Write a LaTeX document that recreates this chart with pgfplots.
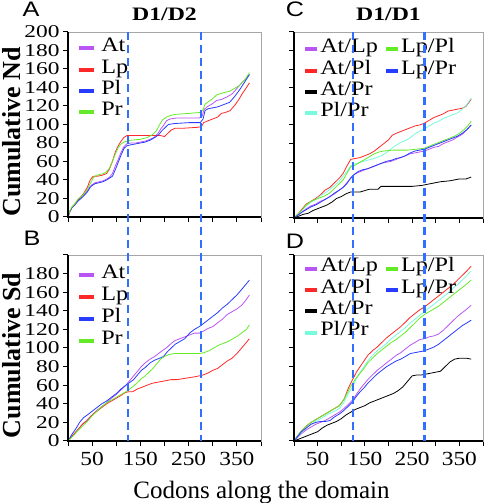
\documentclass[border=0pt]{standalone}
\usepackage{graphicx}
\usepackage{pgfplots}
\pgfplotsset{compat=1.18}
\usepackage{fontspec}
\setmainfont{Liberation Serif}
\newfontfamily\letfont{Liberation Sans}
\newcommand\sty[1]{\scalebox{1.3}[1]{#1}}
\newcommand\stx[1]{\scalebox{1.17}[1]{#1}}
\newcommand\slg[1]{\scalebox{1.18}[1]{#1}}
\definecolor{cAt}{RGB}{185,85,245}
\definecolor{cLp}{RGB}{255,40,40}
\definecolor{cPl}{RGB}{40,60,255}
\definecolor{cPr}{RGB}{100,235,40}
\definecolor{cCy}{RGB}{120,250,220}
\definecolor{cDash}{RGB}{50,110,255}
\pgfplotsset{
  panel/.style={
    scale only axis, xmin=0, xmax=400, ymin=0, ymax=200,
    axis line style={draw=black!35, line width=0.6pt},
    xtick={0,50,...,400}, ytick={0,20,...,200},
    tick align=outside, xtick pos=bottom, ytick pos=left,
    major tick length=5pt, tick style={black, line width=1pt},
    xticklabels={}, yticklabels={},
    after end axis/.append code={\draw[black,line width=1.6pt] (rel axis cs:0,1) -- (rel axis cs:0,0) -- (rel axis cs:1,0);},
    legend cell align=left,
    legend style={draw=none, fill=none, inner sep=0pt,
      font=\fontsize{20.5}{20.5}\selectfont,
      nodes={inner sep=0pt, text height=14pt, text depth=7.3pt}},
    every axis plot/.append style={line width=0.8pt},
  },
  legA/.style={legend image code/.code={\draw[##1, line width=4pt] (0pt,0pt) -- (15pt,0pt);},
    legend style={/tikz/every odd column/.append style={column sep=5pt}}},
  legC/.style={legend image code/.code={\draw[##1, line width=4pt] (0pt,0pt) -- (12pt,0pt);},
    legend columns=2,
    legend style={/tikz/every odd column/.append style={column sep=1pt},
      /tikz/every even column/.append style={column sep=6pt}}},
  ylabs/.style={yticklabels={\sty{0},\sty{20},\sty{40},\sty{60},\sty{80},\sty{100},\sty{120},\sty{140},\sty{160},\sty{180},#1},
    yticklabel style={font=\fontsize{18}{18}\selectfont}},
  xlabs/.style={xticklabels={,\stx{50},,\stx{150},,\stx{250},,\stx{350},},
    xticklabel style={font=\fontsize{20}{20}\selectfont, yshift=-3pt}},
  ttl/.style={title={\scalebox{1.25}[1]{#1}}, title style={font=\bfseries\fontsize{19}{19}\selectfont,
    at={(axis description cs:0.5,1)}, anchor=base, yshift=5pt}},
  ylab/.style={ylabel={#1}, ylabel style={font=\bfseries\fontsize{26}{26}\selectfont,
    at={(axis description cs:-0.293,0.46)}, anchor=center}},
}
\begin{document}
\begin{tikzpicture}
\useasboundingbox (0,0) rectangle (485pt,503pt);
% ---------------- A ----------------
\begin{axis}[panel, legA, ylabs={\sty{200}}, ttl={D1/D2}, ylab={Cumulative Nd},
  at={(68pt,286pt)}, anchor=south west, width=193pt, height=185pt,
  legend style={at={(axis description cs:0.047,0.97)}, anchor=north west}]
\addplot[cAt] coordinates {(0,0)(4,6)(8,10)(14,13)(20,17)(27,21)(33,24)(40,28)(46,33)(50,35)(56,37)(64,38)(72,39)(80,41)(86,43)(92,47)(98,55)(104,62)(110,70)(116,76)(122,79)(130,80)(140,80)(150,81)(160,82)(170,84)(178,86)(186,90)(192,95)(198,99)(204,104)(212,106)(224,107)(250,107)(272,107)(278,109)(282,116)(288,119)(298,122)(308,126)(318,127)(330,130)(340,133)(350,139)(360,145)(368,149)(376,154)};
\addlegendentry{\slg{At}}
\addplot[cLp] coordinates {(0,0)(4,6)(8,10)(14,14)(20,18)(27,22)(33,26)(40,32)(46,40)(52,44)(60,44)(70,45)(80,47)(86,52)(92,60)(98,70)(104,77)(110,82)(116,86)(122,88)(180,88)(192,88)(200,87)(206,90)(214,94)(222,96)(240,96)(270,97)(277,98)(281,102)(290,104)(300,106)(310,108)(318,112)(326,113)(336,115)(346,121)(354,127)(362,134)(370,140)(376,145)};
\addlegendentry{\slg{Lp}}
\addplot[cPl] coordinates {(0,0)(4,6)(8,10)(14,13)(20,17)(27,20)(33,23)(40,27)(46,32)(50,34)(56,36)(64,37)(72,38)(80,40)(86,42)(92,44)(98,51)(104,59)(110,67)(116,74)(122,77)(130,78)(140,79)(150,80)(160,81)(170,83)(180,86)(188,89)(194,93)(200,96)(208,100)(220,101)(250,102)(274,102)(280,106)(284,115)(290,117)(300,118)(310,119)(320,121)(335,124)(345,130)(355,137)(365,145)(376,154)};
\addlegendentry{\slg{Pl}}
\addplot[cPr] coordinates {(0,0)(4,7)(8,11)(14,14)(20,19)(27,22)(33,25)(40,30)(46,36)(52,42)(58,45)(66,46)(74,47)(80,49)(86,53)(92,60)(98,68)(104,75)(110,79)(116,81)(122,82)(130,83)(150,84)(165,86)(175,89)(183,93)(190,100)(196,105)(204,108)(214,110)(224,111)(250,112)(274,113)(280,116)(284,122)(292,125)(300,128)(308,132)(320,134)(335,136)(345,139)(355,142)(366,148)(376,156)};
\addlegendentry{\slg{Pr}}
\coordinate (a1) at (axis cs:125,200);
\coordinate (a2) at (axis cs:276,200);
\end{axis}
% ---------------- B ----------------
\begin{axis}[panel, legA, ylabs={}, xlabs, ylab={Cumulative Sd},
  at={(68pt,62pt)}, anchor=south west, width=193pt, height=186pt,
  legend style={at={(axis description cs:0.047,0.955)}, anchor=north west,
    nodes={text height=14.5pt, text depth=7.5pt}}]
\addplot[cAt] coordinates {(0,0)(10,6)(20,12)(30,18)(40,23)(50,28)(60,33)(70,37)(80,41)(90,46)(100,50)(110,55)(120,60)(128,65)(136,70)(144,75)(152,80)(160,84)(170,88)(180,91)(190,95)(198,98)(206,101)(214,105)(222,108)(232,110)(242,112)(252,114)(262,116)(272,116)(280,118)(290,121)(300,123)(310,127)(320,131)(330,136)(340,139)(350,142)(360,146)(368,151)(376,157)};
\addlegendentry{\slg{At}}
\addplot[cLp] coordinates {(0,0)(10,6)(20,12)(30,18)(40,22)(50,28)(60,32)(70,36)(80,40)(90,43)(100,46)(110,49)(118,52)(126,53)(134,53)(144,56)(154,58)(164,60)(174,62)(184,63)(194,64)(204,65)(214,66)(226,66)(238,67)(250,68)(262,69)(272,70)(280,71)(290,73)(300,76)(310,78)(320,82)(330,86)(340,89)(350,94)(360,100)(368,105)(376,110)};
\addlegendentry{\slg{Lp}}
\addplot[cPl] coordinates {(0,0)(8,7)(16,13)(24,20)(32,25)(40,28)(50,32)(60,36)(70,40)(80,43)(90,47)(100,51)(110,56)(120,60)(128,63)(136,66)(144,71)(152,76)(160,79)(170,84)(180,87)(190,89)(198,91)(206,96)(214,100)(222,104)(232,107)(242,110)(252,116)(262,120)(272,123)(280,126)(290,130)(300,134)(310,138)(320,143)(330,147)(340,152)(350,157)(360,163)(368,168)(376,173)};
\addlegendentry{\slg{Pl}}
\addplot[cPr] coordinates {(0,0)(10,5)(20,11)(30,16)(40,21)(50,27)(60,32)(70,37)(80,41)(90,44)(100,47)(110,50)(120,53)(128,56)(136,59)(144,63)(152,67)(160,70)(168,74)(176,78)(184,83)(192,88)(200,91)(210,93)(220,94)(240,94)(260,94)(272,94)(282,95)(292,97)(302,100)(312,103)(322,105)(332,107)(342,110)(352,113)(362,117)(370,120)(376,125)};
\addlegendentry{\slg{Pr}}
\coordinate (b1) at (axis cs:125,0);
\coordinate (b2) at (axis cs:276,0);
\end{axis}
% ---------------- C ----------------
\begin{axis}[panel, legC, ttl={D1/D1},
  at={(294pt,285pt)}, anchor=south west, width=189pt, height=186pt,
  legend style={at={(axis description cs:0.048,0.965)}, anchor=north west}]
\addplot[cAt, forget plot] coordinates {(0,0)(8,3)(16,6)(26,10)(36,13)(46,15)(56,18)(66,20)(76,23)(86,26)(96,30)(104,33)(112,38)(120,43)(128,47)(136,49)(146,51)(156,53)(166,55)(176,57)(186,59)(196,60)(206,61)(216,63)(226,65)(236,67)(246,69)(256,70)(266,71)(276,72)(286,74)(296,76)(306,77)(316,80)(326,82)(336,84)(346,87)(356,90)(366,95)(375,100)};
\addplot[cLp, forget plot] coordinates {(0,0)(8,4)(16,9)(26,15)(36,18)(46,21)(56,25)(66,30)(76,33)(86,38)(96,43)(104,48)(112,56)(120,63)(130,64)(140,65)(150,67)(160,69)(170,72)(180,76)(190,80)(200,84)(208,89)(216,91)(226,93)(236,95)(246,97)(256,99)(266,100)(276,102)(286,105)(296,108)(306,110)(316,112)(326,115)(336,116)(346,117)(356,118)(364,120)(370,124)(375,128)};
\addplot[black, forget plot] coordinates {(0,0)(10,2)(20,4)(30,5)(40,8)(50,10)(60,12)(70,14)(80,17)(90,21)(100,23)(110,26)(120,28)(140,28)(160,31)(178,31)(184,34)(200,34)(230,34)(250,34)(270,35)(290,37)(310,39)(330,40)(350,42)(364,42)(375,44)};
\addplot[cCy, forget plot] coordinates {(0,0)(8,4)(16,8)(26,13)(36,17)(46,20)(56,24)(66,27)(76,31)(86,35)(96,40)(104,45)(112,50)(120,56)(128,58)(140,60)(155,62)(170,64)(185,67)(195,70)(205,74)(215,78)(225,81)(235,83)(245,86)(255,90)(265,93)(276,96)(286,99)(296,102)(306,104)(316,107)(326,109)(336,111)(346,113)(356,117)(366,122)(375,129)};
\addplot[cPr, forget plot] coordinates {(0,0)(8,4)(16,8)(26,14)(36,18)(46,20)(56,22)(66,24)(76,27)(86,32)(96,37)(104,41)(112,48)(120,55)(130,57)(140,60)(150,63)(160,66)(170,69)(180,71)(190,72)(210,73)(240,73)(260,74)(276,75)(290,78)(300,80)(310,82)(320,84)(330,86)(340,88)(350,91)(360,95)(368,99)(375,104)};
\addplot[cPl, forget plot] coordinates {(0,0)(8,3)(16,6)(26,9)(36,12)(46,14)(56,17)(66,20)(76,23)(86,27)(96,30)(104,33)(112,37)(120,43)(128,47)(136,50)(146,52)(156,53)(166,55)(176,57)(186,59)(196,61)(206,62)(216,64)(226,65)(236,67)(246,70)(256,72)(266,73)(276,74)(286,76)(296,78)(306,80)(316,82)(326,84)(336,86)(346,88)(356,91)(366,95)(375,100)};
\addlegendimage{cAt}\addlegendentry{\slg{At/Lp}}
\addlegendimage{cPr}\addlegendentry{\slg{Lp/Pl}}
\addlegendimage{cLp}\addlegendentry{\slg{At/Pl}}
\addlegendimage{cPl}\addlegendentry{\slg{Lp/Pr}}
\addlegendimage{black}\addlegendentry{\slg{At/Pr}}
\addlegendimage{empty legend}\addlegendentry{}
\addlegendimage{cCy}\addlegendentry{\slg{Pl/Pr}}
\coordinate (c1) at (axis cs:125,200);
\coordinate (c2) at (axis cs:276,200);
\end{axis}
% ---------------- D ----------------
\begin{axis}[panel, legC, xlabs,
  at={(294pt,62pt)}, anchor=south west, width=189pt, height=186pt,
  legend style={at={(axis description cs:0.048,0.985)}, anchor=north west}]
\addplot[cAt, forget plot] coordinates {(0,0)(8,4)(16,8)(26,12)(36,15)(46,18)(56,20)(66,22)(76,25)(86,28)(96,31)(106,35)(116,40)(124,44)(132,50)(140,56)(148,61)(156,66)(166,71)(176,76)(186,80)(196,84)(206,88)(216,92)(226,95)(236,99)(246,103)(256,106)(266,109)(276,110)(286,112)(296,113)(306,115)(316,119)(326,124)(336,129)(346,134)(356,138)(366,142)(375,146)};
\addplot[cLp, forget plot] coordinates {(0,0)(8,6)(16,11)(26,16)(36,20)(46,23)(56,26)(66,29)(76,32)(86,35)(96,38)(106,45)(116,58)(124,66)(132,74)(140,80)(148,86)(156,92)(166,97)(176,101)(186,106)(196,111)(206,115)(216,119)(226,123)(236,128)(246,133)(256,137)(266,141)(276,144)(286,148)(296,152)(306,156)(316,160)(326,164)(336,168)(346,173)(356,178)(366,183)(375,188)};
\addplot[black, forget plot] coordinates {(0,0)(10,2)(20,4)(30,6)(40,8)(50,10)(60,14)(70,17)(80,19)(90,21)(100,24)(110,28)(120,31)(130,34)(140,36)(150,38)(160,41)(170,43)(180,45)(190,47)(200,49)(210,51)(220,54)(230,58)(240,64)(250,70)(260,71)(270,71)(280,72)(290,73)(300,74)(310,75)(320,80)(330,85)(340,88)(350,89)(365,89)(375,88)};
\addplot[cCy, forget plot] coordinates {(0,0)(8,5)(16,9)(26,14)(36,18)(46,21)(56,24)(66,27)(76,30)(86,32)(96,35)(106,42)(116,52)(124,58)(132,67)(140,74)(148,80)(156,86)(166,92)(176,97)(186,101)(196,105)(206,110)(216,114)(226,118)(236,122)(246,127)(256,131)(266,135)(276,139)(286,143)(296,147)(306,151)(316,155)(326,159)(336,164)(346,168)(356,173)(366,178)(375,183)};
\addplot[cPr, forget plot] coordinates {(0,0)(8,6)(16,11)(26,16)(36,20)(46,23)(56,26)(66,29)(76,32)(86,35)(96,38)(106,45)(116,55)(124,62)(132,68)(140,73)(148,78)(156,84)(166,89)(176,94)(186,98)(196,102)(206,106)(216,109)(226,113)(236,117)(246,122)(256,127)(266,132)(276,136)(286,139)(296,142)(306,145)(316,149)(326,153)(336,157)(346,161)(356,165)(366,169)(375,173)};
\addplot[cPl, forget plot] coordinates {(0,0)(8,5)(16,10)(26,14)(36,18)(46,20)(56,21)(66,21)(76,22)(86,26)(96,29)(106,33)(116,38)(124,42)(132,48)(140,53)(148,57)(156,62)(166,67)(176,72)(186,76)(196,80)(206,83)(216,86)(226,88)(236,91)(246,94)(256,95)(266,96)(276,97)(286,99)(296,101)(306,104)(316,108)(326,112)(336,116)(346,120)(356,124)(366,127)(375,130)};
\addlegendimage{cAt}\addlegendentry{\slg{At/Lp}}
\addlegendimage{cPr}\addlegendentry{\slg{Lp/Pl}}
\addlegendimage{cLp}\addlegendentry{\slg{At/Pl}}
\addlegendimage{cPl}\addlegendentry{\slg{Lp/Pr}}
\addlegendimage{black}\addlegendentry{\slg{At/Pr}}
\addlegendimage{empty legend}\addlegendentry{}
\addlegendimage{cCy}\addlegendentry{\slg{Pl/Pr}}
\coordinate (d1) at (axis cs:125,0);
\coordinate (d2) at (axis cs:276,0);
\end{axis}
% dashed domain boundaries
\begin{scope}[cDash, line width=2.2pt, dash pattern=on 8pt off 5pt]
\draw (a1) -- (b1);
\draw (a2) -- (b2);
\draw (c1) -- (d1);
\draw (c2) -- (d2);
\end{scope}
% panel letters and common x label
\node[font=\letfont\fontsize{21}{21}\selectfont] at (31pt,493.5pt) {\scalebox{1.2}[1]{A}};
\node[font=\letfont\fontsize{21}{21}\selectfont] at (32pt,264.5pt) {\scalebox{1.2}[1]{B}};
\node[font=\letfont\fontsize{21}{21}\selectfont] at (295pt,493.5pt) {\scalebox{1.2}[1]{C}};
\node[font=\letfont\fontsize{21}{21}\selectfont] at (295pt,262pt) {\scalebox{1.2}[1]{D}};
\node[font=\fontsize{25}{25}\selectfont, anchor=base] at (261.5pt,5pt) {Codons along the domain};
\end{tikzpicture}
\end{document}
